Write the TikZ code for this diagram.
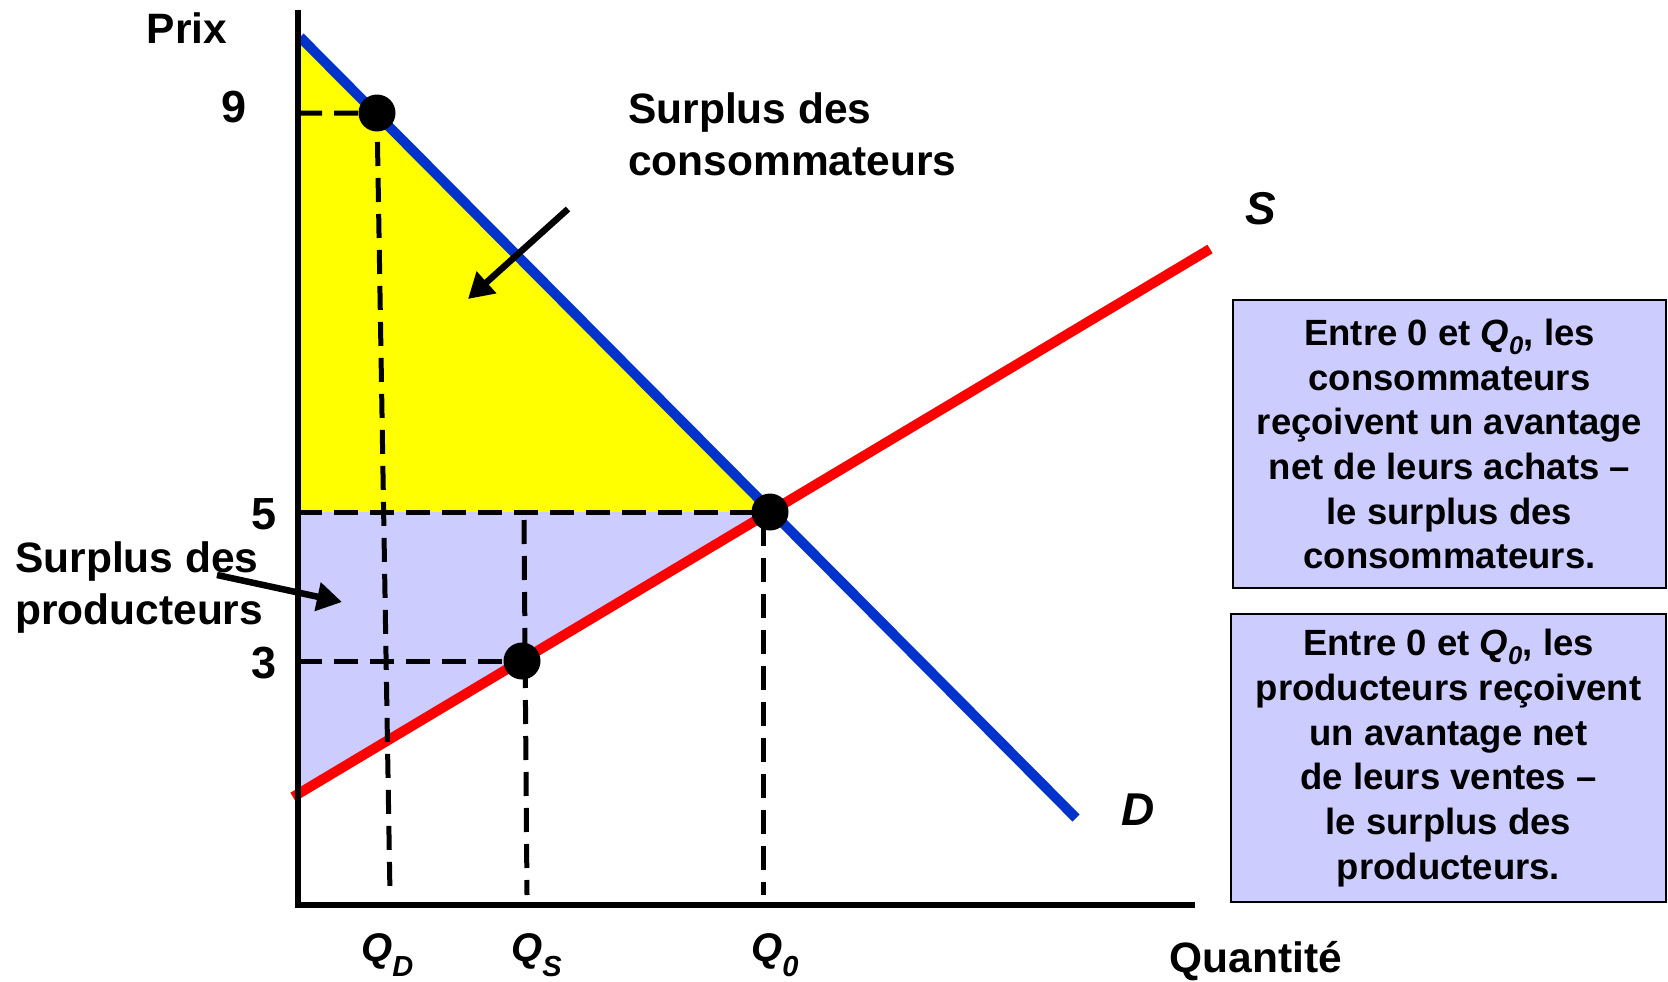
\documentclass[tikz,border=0pt]{standalone}
\usepackage{fontspec}
\setmainfont{Liberation Sans}
\usetikzlibrary{arrows.meta}
\definecolor{csink}{HTML}{000000}
\definecolor{csdemand}{HTML}{0033CC}
\definecolor{cssupply}{HTML}{FF0000}
\definecolor{csconsumer}{HTML}{FFFF00}
\definecolor{csproducer}{HTML}{CCCCFF}
\tikzset{
  csaxis/.style={
    draw=csink,
    line width=5.5pt
  },
  cscurve/.style={
    line width=10pt
  },
  csguide/.style={
    draw=csink,
    line width=5pt,
    dash pattern=on 24pt off 12pt
  },
  csdot/.style={
    circle,
    fill=csink,
    minimum size=37pt,
    inner sep=0pt
  },
  cspointer/.style={
    -{Triangle[length=25pt,width=28pt]},
    draw=csink,
    line width=6.5pt
  },
  cslabel/.style={
    font=\fontsize{42.5}{52}\selectfont\bfseries,
    inner sep=0pt,
    align=left
  },
  cstick/.style={
    font=\fontsize{45}{45}\selectfont\bfseries,
    inner sep=0pt
  },
  cscurvename/.style={
    font=\fontsize{46}{46}\selectfont\bfseries\itshape,
    inner sep=0pt
  },
  csqty/.style={
    font=\fontsize{40}{40}\selectfont\bfseries\itshape,
    inner sep=0pt
  },
  csnote/.style={
    draw=csink,
    line width=2.5pt,
    fill=csproducer,
    minimum height=288pt,
    inner sep=0pt,
    align=center,
    font=\fontsize{36.5}{44.7}\selectfont\bfseries
  }
}
\newcommand{\csq}[1]{Q\raisebox{-15pt}{\fontsize{29}{29}\selectfont #1}}

\begin{document}
\begin{tikzpicture}[x=1pt,y=-1pt]
  \useasboundingbox (0,0) rectangle (1668,982);

  \coordinate (origin) at (298,905);
  \coordinate (ytop) at (298,10);
  \coordinate (xend) at (1195,905);
  \coordinate (dstart) at (300,37);
  \coordinate (dend) at (1076,818);
  \coordinate (sstart) at (293,797);
  \coordinate (send) at (1210,249);
  \coordinate (eq) at (770,512);
  \coordinate (pnine) at (377,113);
  \coordinate (pthree) at (522,661);

  \fill[csconsumer] (298,35) -- (eq) -- (298,512) -- cycle;
  \fill[csproducer] (298,512) -- (eq) -- (298,794) -- cycle;

  \draw[cscurve, draw=csdemand] (dstart) -- (dend);
  \draw[cscurve, draw=cssupply] (sstart) -- (send);

  \draw[csguide] (298,113) -- (pnine) -- (390,895);
  \draw[csguide] (298,512) -- (eq);
  \draw[csguide] (298,661) -- (pthree);
  \draw[csguide] (524,520) -- (527,895);
  \draw[csguide] (eq) ++(-7,10) -- (763,895);

  \draw[csaxis] (ytop) -- (origin) -- (xend);

  \node[csdot] (dotnine) at (pnine) {};
  \node[csdot] (dotthree) at (pthree) {};
  \node[csdot] (doteq) at (eq) {};

  \node[cslabel] (prix) at (187,28) {Prix};
  \node[cslabel] (quantite) at (1256,961) {Quantité};
  \node[cstick] (nine) at (234,107) {9};
  \node[cstick] (five) at (264,514) {5};
  \node[cstick] (three) at (264,663) {3};

  \node[cscurvename] (slabel) at (1261,209) {S};
  \node[cscurvename] (dlabel) at (1138,810) {D};

  \node[csqty, anchor=west] (qd) at (361,955) {\csq{D}};
  \node[csqty, anchor=west] (qs) at (511,955) {\csq{S}};
  \node[csqty, anchor=west] (qo) at (751,955) {\csq{0}};

  \node[cslabel, anchor=west] (conslabel) at (628,134) {Surplus des\\consommateurs};
  \node[cslabel, anchor=west] (prodlabel) at (15,588) {Surplus des\\producteurs};

  \coordinate (constail) at (568,209);
  \coordinate (constip) at (468,299);
  \coordinate (prodtail) at (217,575);
  \coordinate (prodtip) at (342,602);
  \draw[cspointer] (constail) -- (constip);
  \draw[cspointer] (prodtail) -- (prodtip);

  \node[csnote, minimum width=433pt] (consnote) at (1449.5,444) {%%
    Entre 0 et {\itshape Q\textsubscript{0}}, les\\
    consommateurs\\
    reçoivent un avantage\\
    net de leurs achats –\\
    le surplus des\\
    consommateurs.
  };

  \node[csnote, minimum width=435pt] (prodnote) at (1448.5,758) {%%
    Entre 0 et {\itshape Q\textsubscript{0}}, les\\
    producteurs reçoivent\\
    un avantage net\\
    de leurs ventes –\\
    le surplus des\\
    producteurs.
  };
\end{tikzpicture}
\end{document}
